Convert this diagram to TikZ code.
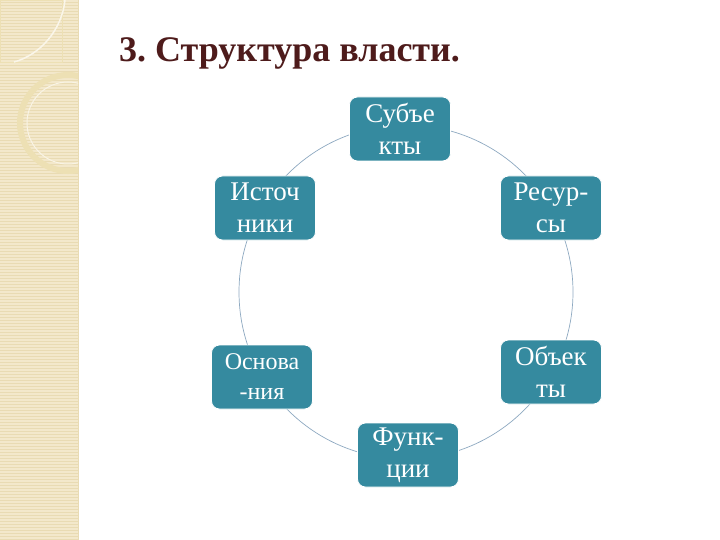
\documentclass[tikz,border=0pt]{standalone}
\usepackage{fontspec}
\setmainfont{Liberation Serif}
\definecolor{boxfill}{HTML}{358A9F}
\definecolor{ringcol}{HTML}{8EA9C1}
\definecolor{titlecol}{HTML}{4E1B1B}
\definecolor{stripcol}{HTML}{F3E8CB}
\definecolor{stripline}{HTML}{E9DBB3}
\definecolor{decocol}{HTML}{EDE0B4}
\tikzset{
  item/.style={draw=white, line width=0.8pt, fill=boxfill, rounded corners=8pt,
    minimum width=101pt, minimum height=64pt, inner sep=2pt, align=center,
    text=white, font=\fontsize{27}{32}\selectfont},
  smallitem/.style={item, font=\fontsize{24}{30}\selectfont},
  ring/.style={draw=ringcol, line width=0.7pt}
}
\begin{document}
\begin{tikzpicture}[x=1pt,y=-1pt]
\useasboundingbox (0,0) rectangle (720,540);
\fill[white] (0,0) rectangle (720,540);
% left strip
\fill[stripcol] (0,0) rectangle (78,540);
\foreach \yy in {2,5,...,540} {\draw[stripline, line width=0.6pt] (0,\yy) -- (78,\yy);}
\draw[stripline, line width=0.6pt] (78,0) -- (78,540);
\begin{scope}
\clip (0,0) rectangle (78,540);
\draw[decocol, line width=0.8pt] (0,0) rectangle (62,62);
\draw[white!60!stripcol, line width=1.5pt] (14,62) .. controls (40,55) and (62,30) .. (65,0);
\draw[decocol, line width=6pt] (68,123) circle (48);
\draw[white!50!stripcol, line width=1pt] (68,123) circle (41);
\end{scope}
% title
\node[anchor=base west, inner sep=0, text=titlecol, font=\fontsize{36}{40}\selectfont\bfseries] (title) at (119,62) {3.~Структура власти.};
% ring
\coordinate (c) at (406,292);
\draw[ring] (c) circle (167);
% boxes
\node[item] (subj) at (400,129) {Субъе\\кты};
\node[item] (ist) at (265,208) {Источ\\ники};
\node[item] (res) at (551,208) {Ресур-\\сы};
\node[smallitem] (osn) at (262,377) {Основа\\-ния};
\node[item] (obj) at (551,372) {Объек\\ты};
\node[item] (fun) at (408,455) {Функ-\\ции};
\end{tikzpicture}
\end{document}
